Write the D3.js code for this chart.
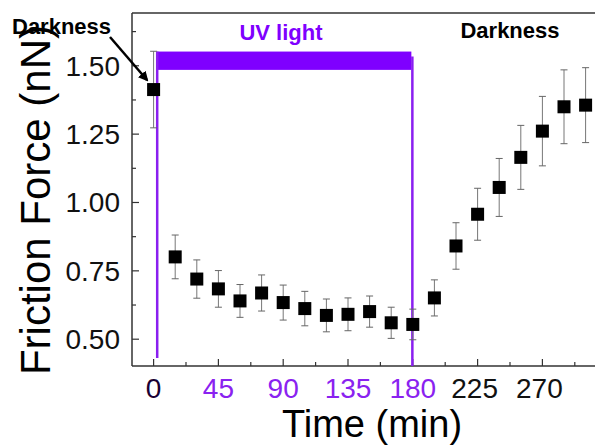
<!DOCTYPE html>
<html>
<head>
<meta charset="utf-8">
<script src="https://cdn.jsdelivr.net/npm/d3@7"></script>
<style>
  body { margin: 0; background: #fff; }
  text { font-family: Arial, "Liberation Sans", sans-serif; }
</style>
</head>
<body>
<svg id="chart" width="595" height="446"></svg>
<script>
// data
var times = [0, 15, 30, 45, 60, 75, 90, 105, 120, 135, 150, 165, 180, 195, 210, 225, 240, 255, 270, 285, 300];
var friction = [1.413, 0.801, 0.720, 0.684, 0.640, 0.669, 0.634, 0.612, 0.587, 0.591, 0.601, 0.560, 0.554,
                0.651, 0.841, 0.957, 1.055, 1.165, 1.261, 1.350, 1.356];
var errors = [0.14, 0.08, 0.07, 0.067, 0.06, 0.066, 0.064, 0.063, 0.06, 0.06, 0.057, 0.057, 0.056,
              0.066, 0.085, 0.095, 0.106, 0.117, 0.127, 0.135, 0.137];
var xTicks = [0, 45, 90, 135, 180, 225, 270];
var yTicks = [0.50, 0.75, 1.00, 1.25, 1.50];
var uvPeriod = [2.5, 179];   // minutes, UV on
var uvBar = [1.485, 1.552];  // band drawn above the data

var purple = "#7f00ff";
var svg = d3.select("#chart");

var plotL = 132, plotR = 600, plotT = 13, plotB = 366;

var x = d3.scaleLinear().domain([-15, 310]).range([plotL, plotR]);
var y = d3.scaleLinear().domain([0.402, 1.693]).range([plotB, plotT]);

//frame: left, bottom and top (right side runs off the picture)
svg.append("line").attr("x1", plotL).attr("x2", plotL).attr("y1", plotT).attr("y2", plotB)
	.attr("stroke", "#333").attr("stroke-width", 1.5);
svg.append("line").attr("x1", plotL).attr("x2", 595).attr("y1", plotB).attr("y2", plotB)
	.attr("stroke", "#333").attr("stroke-width", 1.5);
svg.append("line").attr("x1", plotL).attr("x2", 595).attr("y1", plotT).attr("y2", plotT)
	.attr("stroke", "#333").attr("stroke-width", 1.5);

//inward ticks, major + minor
var yMinor = d3.range(0, 10).map(function (i) { return 0.5 + i * 0.125; });
svg.selectAll(".ytick").data(yMinor).enter().append("line")
	.attr("x1", plotL).attr("x2", function (d, i) { return plotL + (i % 2 == 0 ? 7 : 4); })
	.attr("y1", function (d) { return y(d); }).attr("y2", function (d) { return y(d); })
	.attr("stroke", "#333").attr("stroke-width", 1.2);

var xMinor = d3.range(0, 14).map(function (i) { return i * 22.5; });
svg.selectAll(".xtick").data(xMinor).enter().append("line")
	.attr("x1", function (d) { return x(d); }).attr("x2", function (d) { return x(d); })
	.attr("y1", plotB).attr("y2", function (d, i) { return plotB - (i % 2 == 0 ? 7 : 4); })
	.attr("stroke", "#333").attr("stroke-width", 1.2);

//tick labels
svg.selectAll(".ylab").data(yTicks).enter().append("text")
	.attr("x", 120).attr("y", function (d) { return y(d) + 10; })
	.attr("text-anchor", "end").attr("font-size", 28).attr("fill", "#111")
	.text(function (d) { return d3.format(".2f")(d); });

svg.selectAll(".xlab").data(xTicks).enter().append("text")
	.attr("x", function (d) { return x(d) - (d > 180 ? 3 : 0); }).attr("y", 398)
	.attr("text-anchor", "middle").attr("font-size", 28)
	.attr("fill", function (d) {
		if (d == 0) return "#1a0033";
		return (d > uvPeriod[0] && d <= 180) ? "#8a22f0" : "#111";
	})
	.text(function (d) { return d; });

//axis titles
svg.append("text").attr("x", 372).attr("y", 437).attr("text-anchor", "middle")
	.attr("font-size", 38).attr("fill", "#000").text("Time (min)");
svg.append("text").attr("transform", "translate(50,200) rotate(-90)").attr("text-anchor", "middle")
	.attr("font-size", 42).attr("fill", "#000").text("Friction Force (nN)");

//UV period marker
svg.append("rect")
	.attr("x", x(uvPeriod[0])).attr("y", y(uvBar[1]))
	.attr("width", x(uvPeriod[1]) - x(uvPeriod[0])).attr("height", y(uvBar[0]) - y(uvBar[1]))
	.attr("fill", purple);
svg.append("line").attr("x1", x(uvPeriod[0])).attr("x2", x(uvPeriod[0]))
	.attr("y1", y(uvBar[1])).attr("y2", 358)
	.attr("stroke", "#8a1ff0").attr("stroke-width", 2.5);
svg.append("line").attr("x1", x(uvPeriod[1]) + 1).attr("x2", x(uvPeriod[1]) + 1)
	.attr("y1", y(uvBar[1]) + 5).attr("y2", plotB)
	.attr("stroke", "#8a1ff0").attr("stroke-width", 2.5);

//error bars
var pts = times.map(function (t, i) { return {t: t, v: friction[i], e: errors[i]}; });
var eb = svg.selectAll(".err").data(pts).enter().append("g");
eb.append("line")
	.attr("x1", function (d) { return x(d.t); }).attr("x2", function (d) { return x(d.t); })
	.attr("y1", function (d) { return y(d.v + d.e); }).attr("y2", function (d) { return y(d.v - d.e); })
	.attr("stroke", "#777").attr("stroke-width", 1);
[1, -1].forEach(function (s) {
	eb.append("line")
		.attr("x1", function (d) { return x(d.t) - 3.5; }).attr("x2", function (d) { return x(d.t) + 3.5; })
		.attr("y1", function (d) { return y(d.v + s * d.e); }).attr("y2", function (d) { return y(d.v + s * d.e); })
		.attr("stroke", "#666").attr("stroke-width", 1);
});

//square markers
svg.selectAll(".pt").data(pts).enter().append("rect")
	.attr("x", function (d) { return x(d.t) - 6.5; })
	.attr("y", function (d) { return y(d.v) - 6.5; })
	.attr("width", 13).attr("height", 13)
	.attr("fill", "#000");

//annotations
svg.append("text").attr("x", 281).attr("y", 40).attr("text-anchor", "middle")
	.attr("font-size", 22).attr("font-weight", "bold").attr("fill", purple).text("UV light");
svg.append("text").attr("x", 510).attr("y", 38).attr("text-anchor", "middle")
	.attr("font-size", 22).attr("font-weight", "bold").attr("fill", "#000").text("Darkness");
svg.append("text").attr("x", 12).attr("y", 34)
	.attr("font-size", 22).attr("font-weight", "bold").attr("fill", "#000").text("Darkness");

svg.append("defs").append("marker")
	.attr("id", "arrow").attr("viewBox", "0 0 10 10").attr("refX", 8).attr("refY", 5)
	.attr("markerWidth", 4).attr("markerHeight", 4).attr("orient", "auto")
	.append("path").attr("d", "M0,0 L10,5 L0,10 z").attr("fill", "#000");
svg.append("line").attr("x1", 110).attr("y1", 37).attr("x2", 147).attr("y2", 80)
	.attr("stroke", "#000").attr("stroke-width", 2.5).attr("marker-end", "url(#arrow)");
</script>
</body>
</html>
